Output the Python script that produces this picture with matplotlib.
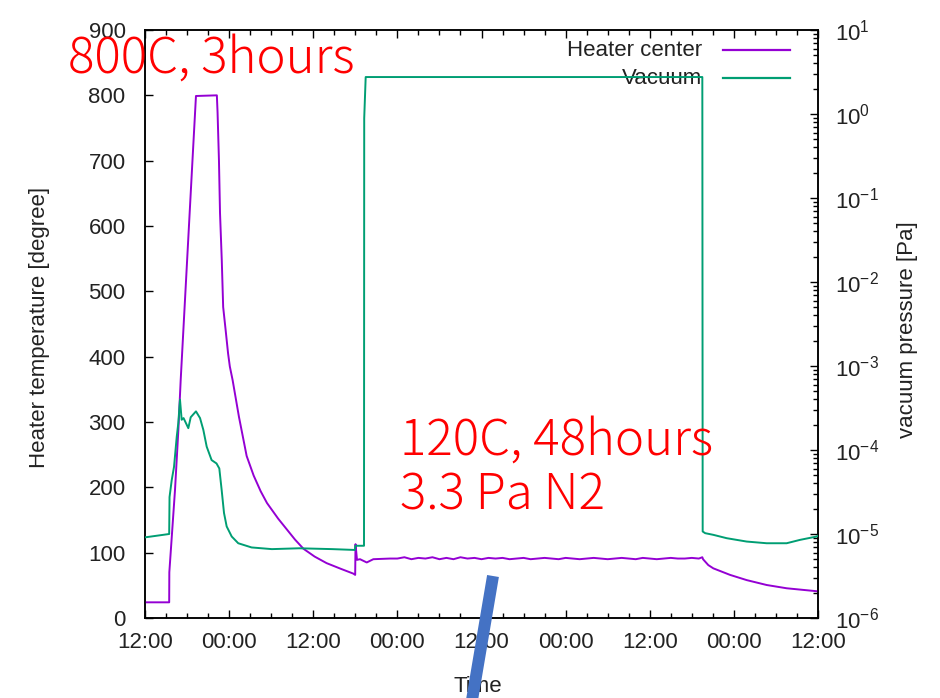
import numpy as np
import matplotlib.pyplot as plt
from matplotlib.lines import Line2D
from matplotlib.ticker import MultipleLocator, FuncFormatter, LogLocator, NullFormatter

# ---- Data (x = hours after 12:00 of the first day)
heater_t = [0, 3.45, 3.47, 4.28, 4.76, 5.09, 5.6, 6.2, 6.8, 7.27, 10.25, 10.35,
            10.55, 10.7, 10.95, 11.15, 11.5, 11.85, 12.1, 12.5, 13.4, 14.5, 15.5,
            16.5, 17.4, 19.0, 20.2, 21.4, 22.6, 24.2, 25.9, 28.0, 29.7, 29.98, 30.03,
            30.24, 30.67, 31.63, 32.57, 34.95,
            36, 37, 38, 39, 40, 41, 42, 43, 44, 45, 46, 47, 48, 49, 50, 51, 52,
            53, 54, 55, 56, 57, 58, 59, 60, 61, 62, 63, 64, 65, 66, 67, 68, 69,
            70, 71, 72, 73, 74, 75, 76, 77, 78, 79,
            79.5, 79.6, 80.35, 81.07, 83.45, 85.83, 88.68, 91.53, 93.9, 95.81, 96]
heater_v = [24, 24, 70, 196, 288, 364, 466, 586, 706, 799, 800, 774,
            700, 620, 548, 476, 441, 405, 385, 364, 308, 248, 218,
            194, 176, 152, 136, 120, 106, 94, 84, 75, 68, 66, 113,
            89, 90, 85, 90, 91,
            91, 93, 90, 92, 91, 93, 90, 92, 90, 93, 91, 92, 90, 92, 91, 92, 90,
            91, 92, 90, 91, 92, 91, 90, 92, 91, 90, 91, 92, 91, 90, 91, 92, 91,
            90, 92, 91, 90, 91, 92, 91, 91, 92, 91,
            93, 90, 81, 76, 66, 58, 50.5, 45.5, 43, 41, 41]

# vacuum pressure, log10 of Pa
vac_t = [0, 3.45, 3.5, 3.81, 4.14, 4.53, 4.75, 4.99, 5.23, 5.5, 6.18, 6.52,
         7.27, 7.85, 8.32, 8.8, 9.5, 10.2, 10.6, 10.94, 11.27, 11.65, 12.37,
         13.3, 15.2, 18.1, 22.0, 26.7, 29.95, 30.0, 31.24, 31.27, 31.48,
         79.5, 79.55, 79.9, 81.07, 82.98, 85.83, 88.68, 91.53, 93.43, 95.81, 96]
vac_log = [-5.04, -5.0, -4.56, -4.36, -4.2, -3.84, -3.68, -3.4, -3.64, -3.62, -3.74, -3.61,
           -3.54, -3.62, -3.76, -3.96, -4.12, -4.16, -4.22, -4.48, -4.75, -4.91, -5.03,
           -5.11, -5.16, -5.18, -5.17, -5.18, -5.19, -5.14, -5.14, -0.05, 0.44,
           0.44, -4.97, -4.99, -5.01, -5.05, -5.09, -5.11, -5.11, -5.07, -5.03, -5.02]
vac_p = 10 ** np.array(vac_log)

purple = "#9400d3"
green = "#009e73"
tick_font = "Liberation Sans"
plt.rcParams["font.family"] = [tick_font, "DejaVu Sans"]
plt.rcParams["mathtext.fontset"] = "custom"
plt.rcParams["mathtext.rm"] = tick_font

fig = plt.figure(figsize=(9.4, 6.98), dpi=100)
ax = fig.add_axes([145 / 940, 1 - 618 / 698, 673 / 940, 588 / 698])
ax2 = ax.twinx()

ax.plot(heater_t, heater_v, color=purple, lw=1.4, zorder=3)
ax2.plot(vac_t, vac_p, color=green, lw=1.4, zorder=3)

ax.set_xlim(0, 96)
ax.set_ylim(0, 900)
ax2.set_yscale("log")
ax2.set_ylim(1e-6, 1e1)

ax.xaxis.set_major_locator(MultipleLocator(12))
ax.xaxis.set_minor_locator(MultipleLocator(3))
ax.xaxis.set_major_formatter(FuncFormatter(lambda h, pos: "%02d:00" % ((12 + int(round(h))) % 24)))
ax.yaxis.set_major_locator(MultipleLocator(100))
ax2.yaxis.set_major_locator(LogLocator(base=10, numticks=20))
ax2.yaxis.set_minor_locator(LogLocator(base=10, subs=np.arange(2, 10), numticks=20))
ax2.yaxis.set_minor_formatter(NullFormatter())

txt = "#222222"
ax.tick_params(axis="x", which="both", direction="in", top=True, bottom=True,
               labelsize=16, pad=10, colors="black", labelcolor=txt, width=1)
ax.tick_params(axis="x", which="major", length=6)
ax.tick_params(axis="x", which="minor", length=3.5)
ax.tick_params(axis="y", direction="in", left=True, right=False, length=6,
               labelsize=16, pad=14, labelcolor=txt, width=1)
ax2.tick_params(axis="y", which="both", direction="in", right=True,
                labelsize=16, pad=12, labelcolor=txt, width=1)
ax2.tick_params(axis="y", which="major", length=6)
ax2.tick_params(axis="y", which="minor", length=3.5)

for a in (ax, ax2):
    for s in a.spines.values():
        s.set_linewidth(1.1)

ax.set_ylabel("Heater temperature [degree]", fontsize=16, color=txt)
ax.yaxis.set_label_coords(-(145 - 50) / 673, 0.495)
ax2.set_ylabel("vacuum pressure [Pa]", fontsize=16, color=txt)
ax2.yaxis.set_label_coords((897 - 145) / 673, 0.49)
ax.set_xlabel("Time", fontsize=16, color=txt)
ax.xaxis.set_label_coords(0.495, -(676 - 618) / 588)

# ---- gnuplot-style legend: right-aligned text, line sample to the right
legend_items = [("Heater center", purple), ("Vacuum", green)]
for i, (label, col) in enumerate(legend_items):
    yy = 1 - (50 + 28 * i - 30) / 588
    ax.text(0.8276, yy, label, transform=ax.transAxes, ha="right", va="center",
            fontsize=16, color=txt, zorder=1)
    ax.add_line(Line2D([0.8588, 0.958], [yy, yy], transform=ax.transAxes,
                       color=col, lw=1.6, zorder=1))

# ---- red annotations
cjk = ["Noto Sans CJK JP", "DejaVu Sans"]
for s, x0, ybase in [("800C, 3hours", 68, 73), ("120C, 48hours", 400, 455),
                     ("3.3 Pa N2", 400, 510)]:
    fig.text(x0 / 940, 1 - ybase / 698, s, fontsize=35.5, color="red",
             family=cjk, fontweight="light", va="baseline", ha="left")

# ---- blue pointer stroke
fig.add_artist(Line2D([493 / 940, 471 / 940], [1 - 576 / 698, 1 - 706 / 698],
                      transform=fig.transFigure, lw=8.6, color="#4472c4",
                      solid_capstyle="butt"))

fig.savefig("out.png", dpi=100)
